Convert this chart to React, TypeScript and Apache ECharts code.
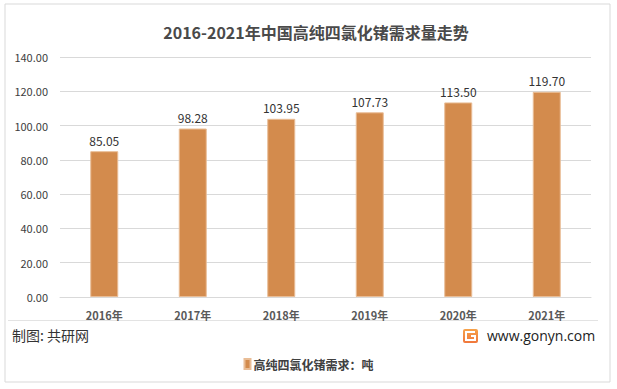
import React, { useEffect, useRef } from "react";
import * as echarts from "echarts";

const categories = ["2016年", "2017年", "2018年", "2019年", "2020年", "2021年"];
const values = [85.05, 98.28, 103.95, 107.73, 113.5, 119.7];
const seriesName = "高纯四氯化锗需求：吨";
const titleText = "2016-2021年中国高纯四氯化锗需求量走势";
const sourceText = "制图: 共研网";
const siteText = "www.gonyn.com";

export default function App() {
  const ref = useRef<HTMLDivElement>(null);
  useEffect(() => {
    const chart = echarts.init(ref.current!, null, { renderer: "svg" });
    const font = "'Microsoft YaHei', 'Noto Sans CJK SC', sans-serif";
    chart.setOption({
      animation: false,
      backgroundColor: "#ffffff",
      textStyle: { fontFamily: font },
      title: {
        text: titleText,
        left: 311,
        top: 19,
        textAlign: "center",
        textStyle: { fontSize: 16, fontWeight: "bold", color: "#4a4a4a", fontFamily: font },
      },
      grid: { left: 60, right: 26, top: 57, bottom: 92, containLabel: false },
      legend: {
        bottom: 14,
        left: "center",
        itemWidth: 6,
        itemHeight: 10,
        itemGap: 4,
        icon: "rect",
        textStyle: { fontSize: 12, color: "#404040", fontWeight: "bold", fontFamily: font, padding: [0, 0, 0, -2] },
        data: [seriesName],
      },
      xAxis: {
        type: "category",
        data: categories,
        axisLine: { show: true, lineStyle: { color: "#d9d9d9" } },
        axisTick: { show: false },
        axisLabel: { color: "#595959", fontSize: 11, fontWeight: "bold", margin: 12, fontFamily: font },
      },
      yAxis: {
        type: "value",
        min: 0,
        max: 140,
        interval: 20,
        axisLine: { show: false },
        axisTick: { show: false },
        splitLine: { lineStyle: { color: "#d9d9d9" } },
        axisLabel: {
          color: "#404040",
          fontSize: 11,
          margin: 12,
          fontFamily: font,
          formatter: (v: number) => v.toFixed(2),
        },
      },
      series: [
        {
          name: seriesName,
          type: "bar",
          data: values,
          barWidth: 28,
          itemStyle: { color: "#D38B4D", borderColor: "#E9BD96", borderWidth: 1 },
          label: {
            show: true,
            position: "top",
            distance: 5,
            color: "#333333",
            fontSize: 12,
            fontFamily: font,
            formatter: (p: any) => Number(p.value).toFixed(2),
          },
        },
      ],
      graphic: [
        {
          type: "rect",
          shape: { x: 5, y: 4, width: 605, height: 378 },
          style: { fill: "none", stroke: "#d9d9d9", lineWidth: 1 },
          silent: true,
        },
        {
          type: "line",
          shape: { x1: 8, y1: 320.5, x2: 598, y2: 320.5 },
          style: { stroke: "#e3e3e3", lineWidth: 1 },
        },
        {
          type: "text",
          left: 12,
          top: 328,
          style: { text: sourceText, fontSize: 14, fill: "#333333", fontFamily: font },
        },
        {
          type: "rect",
          shape: { x: 463, y: 329, width: 15, height: 14, r: 2 },
          style: {
            fill: new echarts.graphic.LinearGradient(0, 0, 0, 1, [
              { offset: 0, color: "#F6A24A" },
              { offset: 1, color: "#F0773C" },
            ]),
          },
        },
        {
          type: "polyline",
          shape: { points: [[475, 332], [466, 332], [466, 340], [475, 340], [475, 336], [471, 336]] },
          style: { stroke: "#ffffff", lineWidth: 2, fill: "none" },
        },
        {
          type: "text",
          left: 487,
          top: 328,
          style: { text: siteText, fontSize: 14, fill: "#222222", fontFamily: "'Open Sans', 'Noto Sans', sans-serif" },
        },
      ],
    });
    return () => chart.dispose();
  }, []);
  return (
    <div
      ref={ref}
      style={{ position: "fixed", left: 0, top: 0, width: 617, height: 389 }}
    />
  );
}
